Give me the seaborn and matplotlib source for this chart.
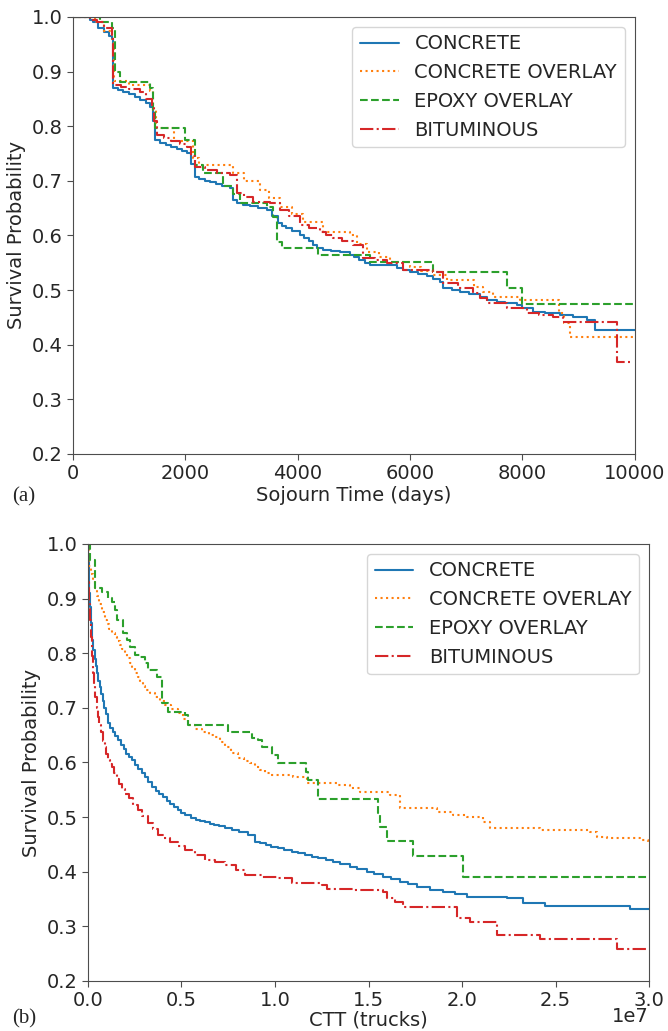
import numpy as np
import pandas as pd
import matplotlib
matplotlib.use("Agg")
import matplotlib.pyplot as plt
import seaborn as sns

# ---- data (Kaplan-Meier style step curves) ----
names = ["CONCRETE", "CONCRETE OVERLAY", "EPOXY OVERLAY", "BITUMINOUS"]
colors = ["#1f77b4", "#ff7f0e", "#2ca02c", "#d62728"]
styles = ["-", ":", "--", "-."]

# (a) sojourn time in days
conc_days = [0, 300, 356, 450, 550, 640, 694, 712, 800, 900, 1000, 1100, 1200, 1300, 1370, 1420,
             1459, 1550, 1650, 1750, 1850, 1950, 2028, 2100, 2171, 2250, 2350, 2450, 2550, 2650,
             2794, 2847, 2930, 3025, 3150, 3300, 3452, 3550, 3648, 3720, 3800, 3900, 4039, 4120,
             4200, 4280, 4342, 4450, 4600, 4750, 4929, 5000, 5100, 5200, 5285, 5765, 5880, 5996,
             6150, 6300, 6420, 6530, 6584, 6750, 6900, 7050, 7242, 7367, 7550, 7700, 7900, 8000,
             8185, 8400, 8665, 8900, 9146, 9288, 10000]
conc_surv = [1.0, 0.995, 0.99, 0.98, 0.972, 0.965, 0.96, 0.870, 0.866, 0.862, 0.858, 0.853, 0.848,
             0.842, 0.835, 0.81, 0.775, 0.770, 0.766, 0.762, 0.758, 0.754, 0.751, 0.73, 0.707, 0.703,
             0.70, 0.697, 0.694, 0.691, 0.687, 0.665, 0.660, 0.656, 0.653, 0.650, 0.647, 0.635,
             0.623, 0.618, 0.613, 0.608, 0.601, 0.596, 0.59, 0.583, 0.577, 0.574, 0.572, 0.569,
             0.565, 0.56, 0.555, 0.55, 0.546, 0.540, 0.537, 0.533, 0.529, 0.525, 0.52, 0.515, 0.504,
             0.50, 0.497, 0.493, 0.488, 0.482, 0.479, 0.476, 0.473, 0.467, 0.460, 0.458, 0.455,
             0.45, 0.445, 0.427, 0.427]

covl_days = [0, 400, 550, 700, 730, 1000, 1370, 1430, 1480, 1800, 2135, 2250, 2850, 3050, 3327,
             3500, 3683, 3900, 4100, 4448, 4929, 5050, 5231, 5450, 5641, 5996, 6200, 6406, 6655,
             7150, 7295, 7473, 7954, 8650, 8750, 8843, 10000]
covl_surv = [1.0, 0.99, 0.975, 0.96, 0.882, 0.875, 0.865, 0.83, 0.797, 0.772, 0.742, 0.729, 0.715,
             0.70, 0.683, 0.668, 0.652, 0.64, 0.625, 0.607, 0.601, 0.585, 0.570, 0.56, 0.552, 0.543,
             0.535, 0.528, 0.519, 0.505, 0.497, 0.488, 0.482, 0.458, 0.44, 0.414, 0.414]

epox_days = [0, 480, 694, 747, 836, 1370, 1430, 1459, 2000, 2171, 2313, 2669, 2847, 2972, 3452,
             3559, 3630, 3719, 4360, 5285, 6406, 7722, 7989, 10000]
epox_surv = [1.0, 0.99, 0.98, 0.90, 0.881, 0.870, 0.83, 0.797, 0.775, 0.729, 0.715, 0.69, 0.675,
             0.660, 0.652, 0.634, 0.588, 0.577, 0.565, 0.552, 0.533, 0.504, 0.475, 0.475]

bitu_days = [0, 300, 427, 550, 694, 712, 850, 1000, 1192, 1300, 1406, 1450, 1495, 1620, 1750, 1900,
             2028, 2100, 2171, 2350, 2562, 2794, 2918, 3050, 3203, 3505, 3683, 3850, 4039, 4200,
             4395, 4500, 4626, 4800, 4982, 5160, 5380, 5587, 5872, 6406, 6584, 6850, 7117, 7250,
             7367, 7722, 8078, 8300, 8541, 8719, 9680, 9911]
bitu_surv = [1.0, 0.995, 0.99, 0.98, 0.967, 0.876, 0.872, 0.868, 0.863, 0.85, 0.836, 0.81, 0.784,
             0.778, 0.772, 0.767, 0.762, 0.745, 0.726, 0.72, 0.715, 0.711, 0.678, 0.67, 0.662, 0.660,
             0.647, 0.635, 0.619, 0.613, 0.607, 0.601, 0.595, 0.589, 0.583, 0.559, 0.555, 0.550,
             0.537, 0.533, 0.513, 0.504, 0.495, 0.486, 0.477, 0.468, 0.458, 0.455, 0.451, 0.442,
             0.368, 0.368]

# (b) cumulative truck traffic, in units of 1e7 trucks
conc_ctt = [0, 0.002, 0.005, 0.008, 0.011, 0.015, 0.021, 0.028, 0.035, 0.041, 0.048, 0.055, 0.062,
            0.070, 0.078, 0.086, 0.095, 0.107, 0.12, 0.133, 0.147, 0.160, 0.175, 0.19, 0.205, 0.22,
            0.235, 0.252, 0.27, 0.287, 0.305, 0.323, 0.342, 0.362, 0.382, 0.40, 0.42, 0.44, 0.46,
            0.481, 0.50, 0.52, 0.55, 0.58, 0.60, 0.626, 0.65, 0.675, 0.70, 0.735, 0.770, 0.81,
            0.856, 0.893, 0.92, 0.95, 0.98, 1.016, 1.05, 1.09, 1.123, 1.16, 1.20, 1.230, 1.27,
            1.310, 1.35, 1.401, 1.44, 1.49, 1.53, 1.578, 1.62, 1.67, 1.71, 1.759, 1.83, 1.898,
            1.96, 2.027, 2.241, 2.326, 2.444, 2.898, 3.0]
conc_surv_b = [1.0, 0.97, 0.94, 0.91, 0.885, 0.855, 0.824, 0.805, 0.79, 0.777, 0.764, 0.75, 0.738,
               0.725, 0.712, 0.70, 0.688, 0.672, 0.663, 0.655, 0.648, 0.641, 0.632, 0.624, 0.616,
               0.61, 0.605, 0.596, 0.588, 0.58, 0.573, 0.564, 0.555, 0.548, 0.542, 0.536, 0.53,
               0.524, 0.518, 0.513, 0.508, 0.503, 0.499, 0.495, 0.493, 0.491, 0.488, 0.485, 0.483,
               0.48, 0.476, 0.472, 0.467, 0.455, 0.452, 0.449, 0.446, 0.443, 0.44, 0.437, 0.434,
               0.43, 0.427, 0.425, 0.422, 0.418, 0.414, 0.409, 0.405, 0.40, 0.396, 0.391, 0.386,
               0.381, 0.377, 0.372, 0.367, 0.363, 0.359, 0.354, 0.352, 0.343, 0.337, 0.332, 0.332]

covl_ctt = [0, 0.003, 0.008, 0.015, 0.025, 0.037, 0.048, 0.06, 0.075, 0.091, 0.103, 0.115, 0.13,
            0.144, 0.157, 0.17, 0.184, 0.198, 0.211, 0.225, 0.238, 0.251, 0.265, 0.28, 0.292,
            0.305, 0.33, 0.358, 0.385, 0.412, 0.445, 0.481, 0.51, 0.535, 0.57, 0.610, 0.645,
            0.679, 0.705, 0.733, 0.767, 0.802, 0.835, 0.866, 0.893, 0.920, 0.945, 0.973, 1.096,
            1.171, 1.331, 1.40, 1.455, 1.615, 1.668, 1.866, 1.952, 2.027, 2.112, 2.150, 2.417,
            2.684, 2.722, 2.775, 2.952, 2.995, 3.0]
covl_surv_b = [1.0, 0.975, 0.96, 0.945, 0.93, 0.919, 0.905, 0.89, 0.875, 0.861, 0.853, 0.845,
               0.837, 0.830, 0.822, 0.815, 0.807, 0.800, 0.791, 0.782, 0.773, 0.764, 0.756, 0.748,
               0.74, 0.733, 0.727, 0.720, 0.712, 0.705, 0.698, 0.691, 0.68, 0.669, 0.662, 0.656,
               0.651, 0.647, 0.638, 0.628, 0.618, 0.608, 0.603, 0.599, 0.592, 0.586, 0.581, 0.577,
               0.573, 0.562, 0.559, 0.553, 0.546, 0.541, 0.517, 0.509, 0.504, 0.500, 0.491, 0.480,
               0.476, 0.473, 0.464, 0.462, 0.458, 0.453, 0.453]

epox_ctt = [0, 0.011, 0.037, 0.075, 0.107, 0.128, 0.144, 0.155, 0.187, 0.209, 0.225, 0.251, 0.278,
            0.305, 0.321, 0.369, 0.396, 0.428, 0.519, 0.535, 0.749, 0.877, 0.909, 0.930, 0.984,
            1.016, 1.165, 1.176, 1.230, 1.551, 1.561, 1.599, 1.738, 2.005, 3.0]
epox_surv_b = [1.0, 0.971, 0.919, 0.912, 0.901, 0.894, 0.879, 0.861, 0.837, 0.824, 0.811, 0.797,
               0.793, 0.782, 0.769, 0.757, 0.709, 0.692, 0.687, 0.669, 0.656, 0.645, 0.641, 0.628,
               0.614, 0.599, 0.582, 0.568, 0.533, 0.508, 0.482, 0.456, 0.429, 0.390, 0.390]

bitu_ctt = [0, 0.002, 0.005, 0.010, 0.015, 0.021, 0.027, 0.033, 0.04, 0.047, 0.053, 0.06, 0.07,
            0.08, 0.091, 0.099, 0.107, 0.117, 0.128, 0.14, 0.155, 0.168, 0.182, 0.20, 0.22, 0.243,
            0.267, 0.29, 0.32, 0.345, 0.374, 0.405, 0.44, 0.48, 0.519, 0.57, 0.626, 0.68, 0.733,
            0.79, 0.840, 0.93, 1.016, 1.091, 1.251, 1.278, 1.42, 1.578, 1.599, 1.64, 1.684, 1.973,
            2.043, 2.187, 2.417, 2.829, 3.0]
bitu_surv_b = [1.0, 0.93, 0.89, 0.861, 0.83, 0.795, 0.764, 0.74, 0.72, 0.70, 0.683, 0.668, 0.655,
               0.64, 0.628, 0.615, 0.605, 0.598, 0.592, 0.58, 0.57, 0.56, 0.552, 0.543, 0.535,
               0.523, 0.513, 0.502, 0.49, 0.478, 0.467, 0.461, 0.455, 0.447, 0.440, 0.43, 0.422,
               0.417, 0.412, 0.403, 0.394, 0.391, 0.389, 0.379, 0.376, 0.368, 0.366, 0.363, 0.352,
               0.344, 0.336, 0.315, 0.308, 0.284, 0.277, 0.259, 0.259]

panel_a = [(conc_days, conc_surv), (covl_days, covl_surv), (epox_days, epox_surv), (bitu_days, bitu_surv)]
panel_b = [(conc_ctt, conc_surv_b), (covl_ctt, covl_surv_b), (epox_ctt, epox_surv_b), (bitu_ctt, bitu_surv_b)]

sns.set_style("ticks")
plt.rcParams["axes.edgecolor"] = "0.3"
plt.rcParams["font.family"] = ["DejaVu Sans"]

fig = plt.figure(figsize=(6.68, 10.31), dpi=100)
ax_a = fig.add_axes([0.109, 0.5597, 0.841, 0.4239])
ax_b = fig.add_axes([0.1317, 0.0485, 0.840, 0.4239])


def draw_panel(ax, series, scale):
    for (xs, ys), name, col, ls in zip(series, names, colors, styles):
        df = pd.DataFrame({"x": np.asarray(xs) * scale, "y": ys})
        sns.lineplot(data=df, x="x", y="y", ax=ax, color=col, linestyle=ls, linewidth=1.5,
                     drawstyle="steps-post", estimator=None, label=name)
    ax.set_ylim(0.2, 1.0)
    ax.set_yticks(np.arange(0.2, 1.01, 0.1))
    ax.set_ylabel("Survival Probability", fontsize=14)
    ax.tick_params(labelsize=14, length=4, color="0.3")
    ax.legend(loc="upper right", fontsize=14, frameon=True)


draw_panel(ax_a, panel_a, 1)
ax_a.set_xlim(0, 10000)
ax_a.set_xticks(np.arange(0, 10001, 2000))
ax_a.set_xlabel("Sojourn Time (days)", fontsize=14, labelpad=2)

draw_panel(ax_b, panel_b, 1e7)
ax_b.set_xlim(0, 3e7)
ax_b.set_xticks(np.arange(0, 3.01e7, 0.5e7))
ax_b.set_xlabel("CTT (trucks)", fontsize=14, labelpad=0)
# scale factor drawn by hand so it sits on the label line and stays inside the figure
ax_b.xaxis.get_offset_text().set_visible(False)
ax_b.text(1.0, -0.06, "1e7", transform=ax_b.transAxes, ha="right", va="top", fontsize=14)

fig.text(0.018, 0.518, "(a)", fontsize=15, family="Liberation Serif", va="center")
fig.text(0.018, 0.012, "(b)", fontsize=15, family="Liberation Serif", va="center")

fig.savefig("out.png", dpi=100)
